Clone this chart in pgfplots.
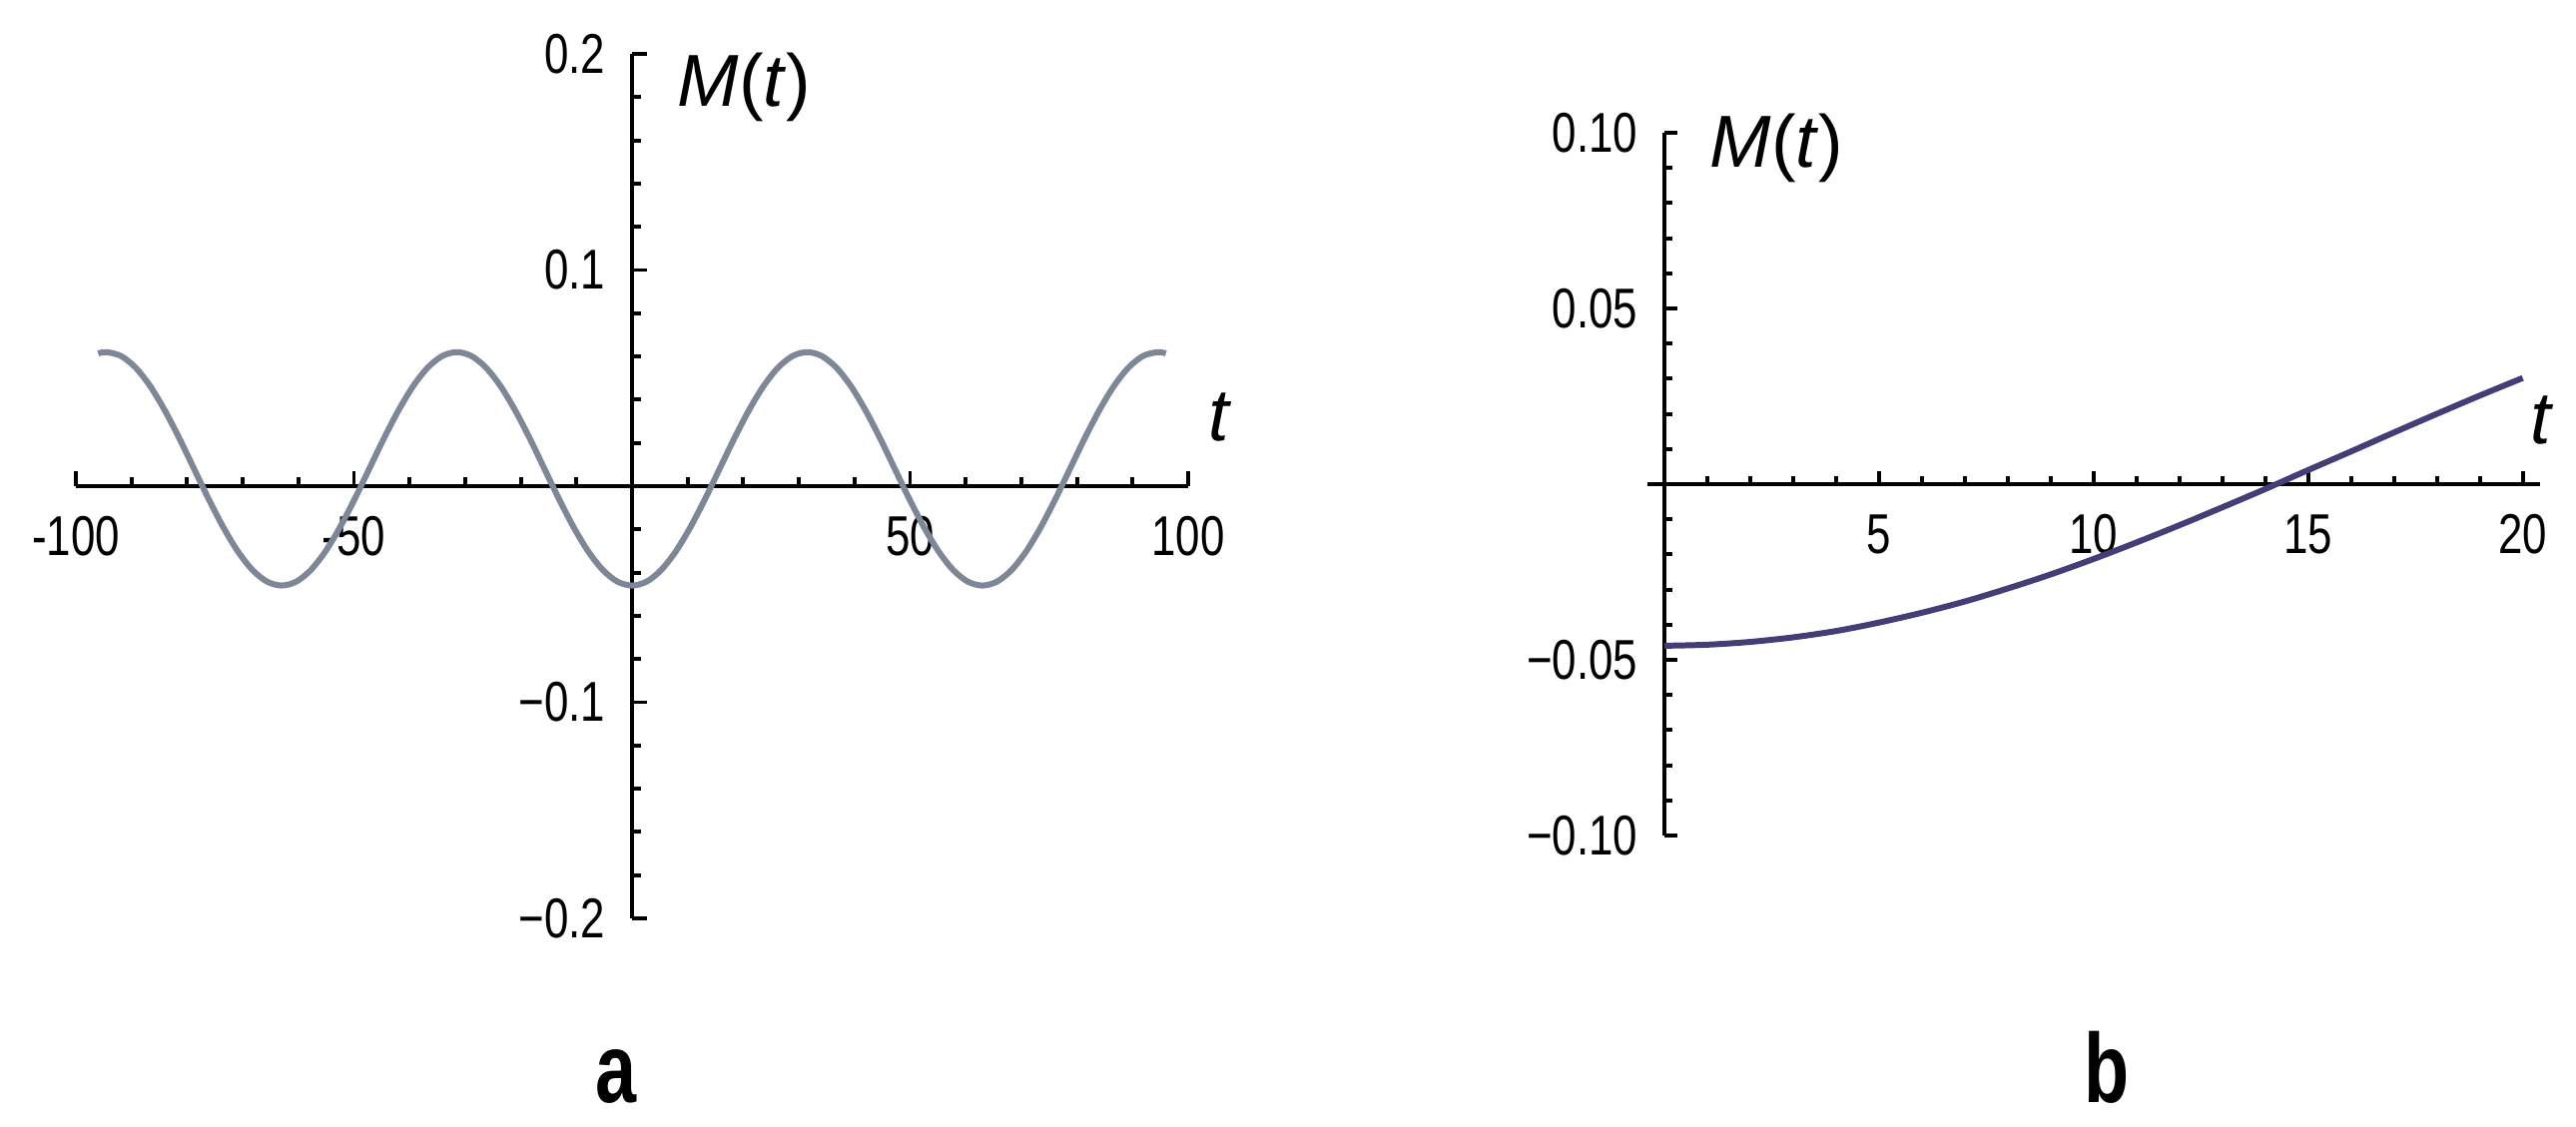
\documentclass[border=0pt]{standalone}
\usepackage{fontspec}
\setmainfont{Liberation Sans}
\newfontfamily\tickfont[FakeStretch=0.78]{Liberation Sans}
\newfontfamily\panelfont[FakeStretch=0.75]{Liberation Sans}
\usepackage{pgfplots}
\pgfplotsset{compat=1.18}
\definecolor{curveA}{RGB}{125,135,150}
\definecolor{curveB}{RGB}{68,62,118}

\pgfplotsset{
  mma/.style={
    axis lines=middle,
    axis line style={line width=1.3pt, -},
    every inner x axis line/.append style={-},
    every inner y axis line/.append style={-},
    scale only axis,
    clip=false,
    anchor=origin,
    tick align=inside,
    tick style={line width=1.1pt, black},
    major tick length=0.15cm,
    minor tick length=0.09cm,
    xticklabel style={font=\tickfont\fontsize{16}{18}\selectfont, anchor=north, inner sep=0pt, yshift=-0.3cm},
    yticklabel style={font=\tickfont\fontsize{16}{18}\selectfont, anchor=east, inner sep=0pt, xshift=-0.26cm},
  }
}

\begin{document}
\begin{tikzpicture}
\useasboundingbox (0,0) rectangle (25.8,11.29);

% panel a
\begin{axis}[mma,
    at={(6.33cm,6.42cm)},
    width=11.14cm, height=8.66cm,
    xmin=-100, xmax=100, ymin=-0.2, ymax=0.2,
    xtick={-100,-50,50,100},
    xticklabels={-100,-50,50,100},
    minor xtick={-90,-80,-70,-60,-40,-30,-20,-10,10,20,30,40,60,70,80,90},
    ytick={-0.2,-0.1,0.1,0.2},
    yticklabels={−0.2,−0.1,0.1,0.2},
    minor ytick={-0.18,-0.16,-0.14,-0.12,-0.08,-0.06,-0.04,-0.02,0.02,0.04,0.06,0.08,0.12,0.14,0.16,0.18},
]
\addplot[curveA, line width=1.7pt, smooth] coordinates {
(-96,0.0614) (-94.5,0.0620) (-91.875,0.0602) (-89.25,0.0548) (-86.625,0.0462)
(-84,0.0350) (-81.375,0.0220) (-78.75,0.0080) (-76.125,-0.0060) (-73.5,-0.0190)
(-70.875,-0.0302) (-68.25,-0.0388) (-65.625,-0.0442) (-63,-0.0460) (-60.375,-0.0442)
(-57.75,-0.0388) (-55.125,-0.0302) (-52.5,-0.0190) (-49.875,-0.0060) (-47.25,0.0080)
(-44.625,0.0220) (-42,0.0350) (-39.375,0.0462) (-36.75,0.0548) (-34.125,0.0602)
(-31.5,0.0620) (-28.875,0.0602) (-26.25,0.0548) (-23.625,0.0462) (-21,0.0350)
(-18.375,0.0220) (-15.75,0.0080) (-13.125,-0.0060) (-10.5,-0.0190) (-7.875,-0.0302)
(-5.25,-0.0388) (-2.625,-0.0442) (0,-0.0460)
(2.625,-0.0442) (5.25,-0.0388) (7.875,-0.0302) (10.5,-0.0190) (13.125,-0.0060)
(15.75,0.0080) (18.375,0.0220) (21,0.0350) (23.625,0.0462) (26.25,0.0548)
(28.875,0.0602) (31.5,0.0620) (34.125,0.0602) (36.75,0.0548) (39.375,0.0462)
(42,0.0350) (44.625,0.0220) (47.25,0.0080) (49.875,-0.0060) (52.5,-0.0190)
(55.125,-0.0302) (57.75,-0.0388) (60.375,-0.0442) (63,-0.0460) (65.625,-0.0442)
(68.25,-0.0388) (70.875,-0.0302) (73.5,-0.0190) (76.125,-0.0060) (78.75,0.0080)
(81.375,0.0220) (84,0.0350) (86.625,0.0462) (89.25,0.0548) (91.875,0.0602)
(94.5,0.0620) (96,0.0614)
};
\node[anchor=north west, inner sep=0pt, font=\fontsize{21}{24}\selectfont]
  at (axis cs:0,0.2) [xshift=0.45cm, yshift=0.02cm] {\textit{M}(\textit{t})};
\node[anchor=base west, inner sep=0pt, font=\fontsize{21}{24}\selectfont]
  at (axis cs:100,0) [xshift=0.2cm, yshift=0.45cm] {\textit{t}};
\end{axis}

% panel b
\begin{axis}[mma,
    at={(16.67cm,6.44cm)},
    width=8.94cm, height=7.04cm,
    xmin=-0.4, xmax=20.4, ymin=-0.1, ymax=0.1,
    major tick length=0.13cm,
    minor tick length=0.08cm,
    xtick={5,10,15,20},
    xticklabels={5,10,15,20},
    minor xtick={1,2,3,4,6,7,8,9,11,12,13,14,16,17,18,19},
    ytick={-0.1,-0.05,0.05,0.1},
    yticklabels={−0.10,−0.05,0.05,0.10},
    minor ytick={-0.09,-0.08,-0.07,-0.06,-0.04,-0.03,-0.02,-0.01,0.01,0.02,0.03,0.04,0.06,0.07,0.08,0.09},
]
\addplot[curveB, line width=1.7pt, smooth] coordinates {
(0,-0.0460) (1,-0.0457) (2,-0.0449) (3,-0.0436) (4,-0.0418) (5,-0.0394)
(6,-0.0366) (7,-0.0334) (8,-0.0297) (9,-0.0257) (10,-0.0213) (11,-0.0166)
(12,-0.0117) (13,-0.0066) (14,-0.0014) (15,0.0040) (16,0.0093) (17,0.0147)
(18,0.0200) (19,0.0252) (20,0.0302)
};
\node[anchor=north west, inner sep=0pt, font=\fontsize{21}{24}\selectfont]
  at (axis cs:0,0.1) [xshift=0.45cm, yshift=0.2cm] {\textit{M}(\textit{t})};
\node[anchor=base west, inner sep=0pt, font=\fontsize{21}{24}\selectfont]
  at (axis cs:20.4,0) [xshift=-0.1cm, yshift=0.4cm] {\textit{t}};
\end{axis}

\node[anchor=base, inner sep=0pt, font=\panelfont\bfseries\fontsize{28}{30}\selectfont] at (6.17,0.24) {a};
\node[anchor=base, inner sep=0pt, font=\panelfont\bfseries\fontsize{28}{30}\selectfont] at (21.1,0.24) {b};
\end{tikzpicture}
\end{document}
